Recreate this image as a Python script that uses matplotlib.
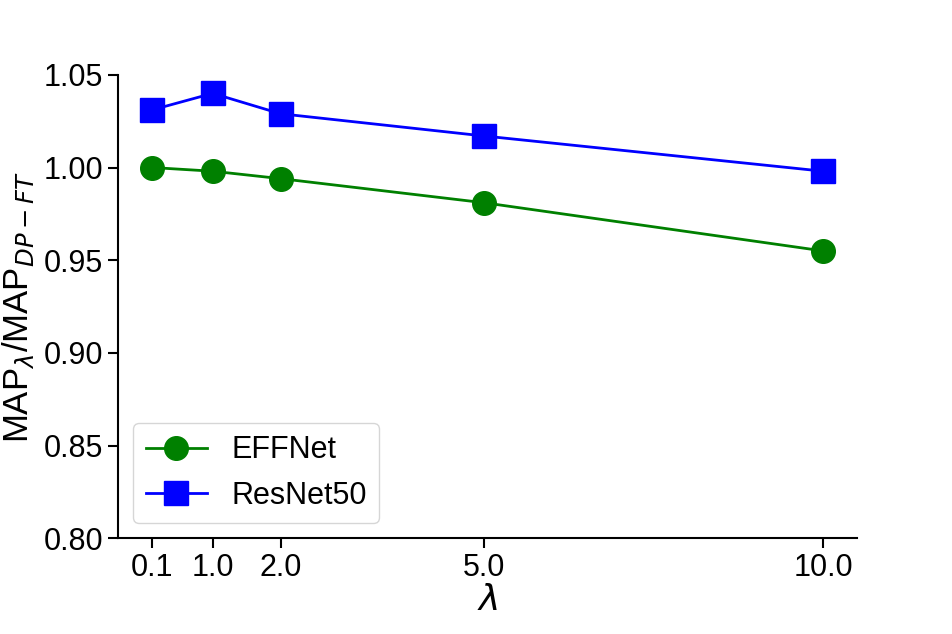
import matplotlib
matplotlib.use("Agg")
import matplotlib.pyplot as plt

# values
lambdas = [0.1, 1.0, 2.0, 5.0, 10.0]
effnet = [1.000, 0.998, 0.994, 0.981, 0.955]
resnet50 = [1.031, 1.040, 1.029, 1.017, 0.998]
yticks = [0.80, 0.85, 0.90, 0.95, 1.00, 1.05]

plt.rcParams["font.family"] = ["Liberation Sans", "DejaVu Sans"]
plt.rcParams["font.size"] = 22

fig = plt.figure(figsize=(9.52, 6.34), dpi=100)
ax = fig.add_axes([0.124, 0.151, 0.776, 0.731])

ax.plot(lambdas, effnet, color="green", marker="o", markersize=17, lw=2, label="EFFNet")
ax.plot(lambdas, resnet50, color="blue", marker="s", markersize=17, lw=2, label="ResNet50")

ax.set_ylim(0.80, 1.05)
ax.set_yticks(yticks)
ax.set_yticklabels([f"{v:.2f}" for v in yticks])
ax.set_xticks(lambdas)
ax.set_xticklabels([f"{v:.1f}" for v in lambdas])

ax.spines["top"].set_visible(False)
ax.spines["right"].set_visible(False)
for s in ["left", "bottom"]:
    ax.spines[s].set_linewidth(1.5)
ax.tick_params(width=1.5, length=7, labelsize=22)

ax.set_xlabel(r"$\lambda$", labelpad=0, fontsize=26)
ax.set_ylabel(r"MAP$_\lambda$/MAP$_{DP-FT}$", fontsize=25, labelpad=6)

ax.legend(loc="lower left", fontsize=22)

fig.savefig("out.png", dpi=100)
